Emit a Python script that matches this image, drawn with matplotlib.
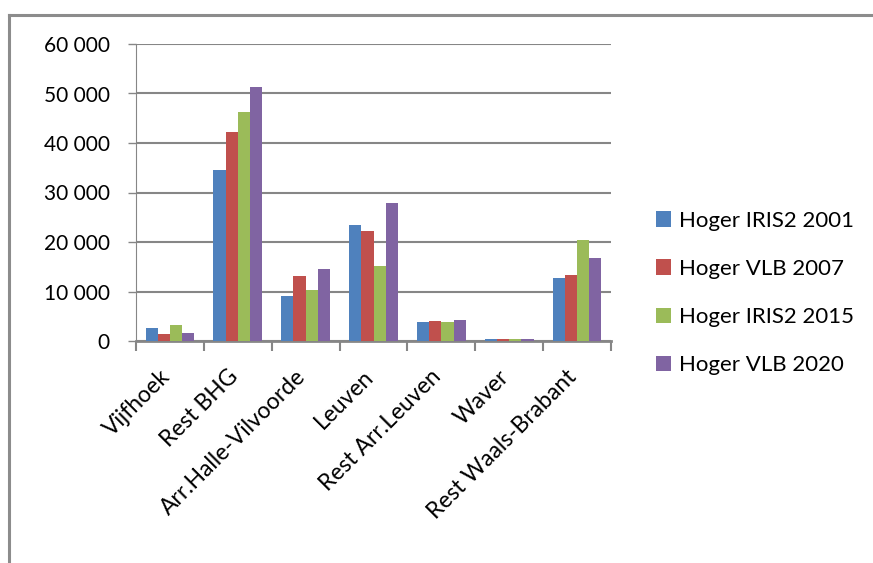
import matplotlib
matplotlib.use("Agg")
import matplotlib.pyplot as plt
from matplotlib.lines import Line2D
from matplotlib.ticker import FixedLocator, FuncFormatter
import matplotlib.transforms as mtransforms
import numpy as np

plt.rcParams['font.family'] = ['Lato', 'DejaVu Sans']

categories = ["Vijfhoek", "Rest BHG", "Arr.Halle-Vilvoorde", "Leuven",
              "Rest Arr.Leuven", "Waver", "Rest Waals-Brabant"]
series_names = ["Hoger IRIS2 2001", "Hoger VLB 2007", "Hoger IRIS2 2015", "Hoger VLB 2020"]
iris2_2001 = [2600, 34500, 9100, 23400, 3800, 500, 12700]
vlb_2007 = [1400, 42300, 13200, 22200, 4000, 500, 13300]
iris2_2015 = [3200, 46300, 10300, 15200, 3800, 500, 20400]
vlb_2020 = [1600, 51400, 14500, 27900, 4200, 500, 16800]
y_ticks = [0, 10000, 20000, 30000, 40000, 50000, 60000]

series = [iris2_2001, vlb_2007, iris2_2015, vlb_2020]
colors = ["#4F81BD", "#C0504D", "#9BBB59", "#8064A2"]
grid_col = "#868686"

fig = plt.figure(figsize=(8.73, 5.63), dpi=100)
ax = fig.add_axes([136 / 873, 1 - 341 / 563, 475 / 873, 297 / 563])

x = np.arange(len(categories))
bw = 0.18
for i, (vals, col, name) in enumerate(zip(series, colors, series_names)):
    ax.bar(x + (i - 1.5) * bw, vals, width=bw, color=col, label=name, zorder=3)

ax.set_xlim(-0.5, len(categories) - 0.5)
ax.set_ylim(0, 60000)

# y axis
ax.yaxis.set_major_locator(FixedLocator(y_ticks))
ax.yaxis.set_major_formatter(FuncFormatter(lambda v, p: f"{int(v):,}".replace(",", " ")))
ax.tick_params(axis='y', which='major', length=6, width=1, color=grid_col,
               labelsize=15, pad=13, labelcolor="black")
ax.yaxis.grid(True, color=grid_col, linewidth=1.5, zorder=0)
ax.set_axisbelow(True)

# x axis: ticks at category boundaries, labels at centres
ax.xaxis.set_major_locator(FixedLocator(np.arange(-0.5, len(categories), 1.0)))
ax.xaxis.set_major_formatter(FuncFormatter(lambda v, p: ""))
ax.xaxis.set_minor_locator(FixedLocator(x))
ax.set_xticklabels(categories, minor=True, rotation=45, ha='right',
                   rotation_mode='default', fontsize=16.5)
ax.tick_params(axis='x', which='major', length=7, width=1.5, color=grid_col)
ax.tick_params(axis='x', which='minor', length=0, pad=18)
shift = mtransforms.ScaledTranslation(4 / 100, 0, fig.dpi_scale_trans)
for lbl in ax.get_xticklabels(minor=True):
    lbl.set_transform(lbl.get_transform() + shift)

for side in ["top", "right"]:
    ax.spines[side].set_visible(False)
ax.spines["bottom"].set_color(grid_col)
ax.spines["bottom"].set_linewidth(2)
ax.spines["left"].set_color(grid_col)
ax.spines["left"].set_linewidth(0.8)

leg = ax.legend(loc="center left", bbox_to_anchor=(636 / 873, 1 - 293 / 563),
                bbox_transform=fig.transFigure, frameon=False, fontsize=16,
                handlelength=0.68, handleheight=0.68, handletextpad=0.35,
                labelspacing=1.27)

# outer frame
frame_col = "#8C8C8C"
fig.add_artist(Line2D([9 / 873, 9 / 873], [0, 1 - 15 / 563], color=frame_col,
                      linewidth=2.2, transform=fig.transFigure))
fig.add_artist(Line2D([9 / 873, 1], [1 - 15 / 563, 1 - 15 / 563], color=frame_col,
                      linewidth=2.2, transform=fig.transFigure))

fig.savefig("out.png", dpi=100)
